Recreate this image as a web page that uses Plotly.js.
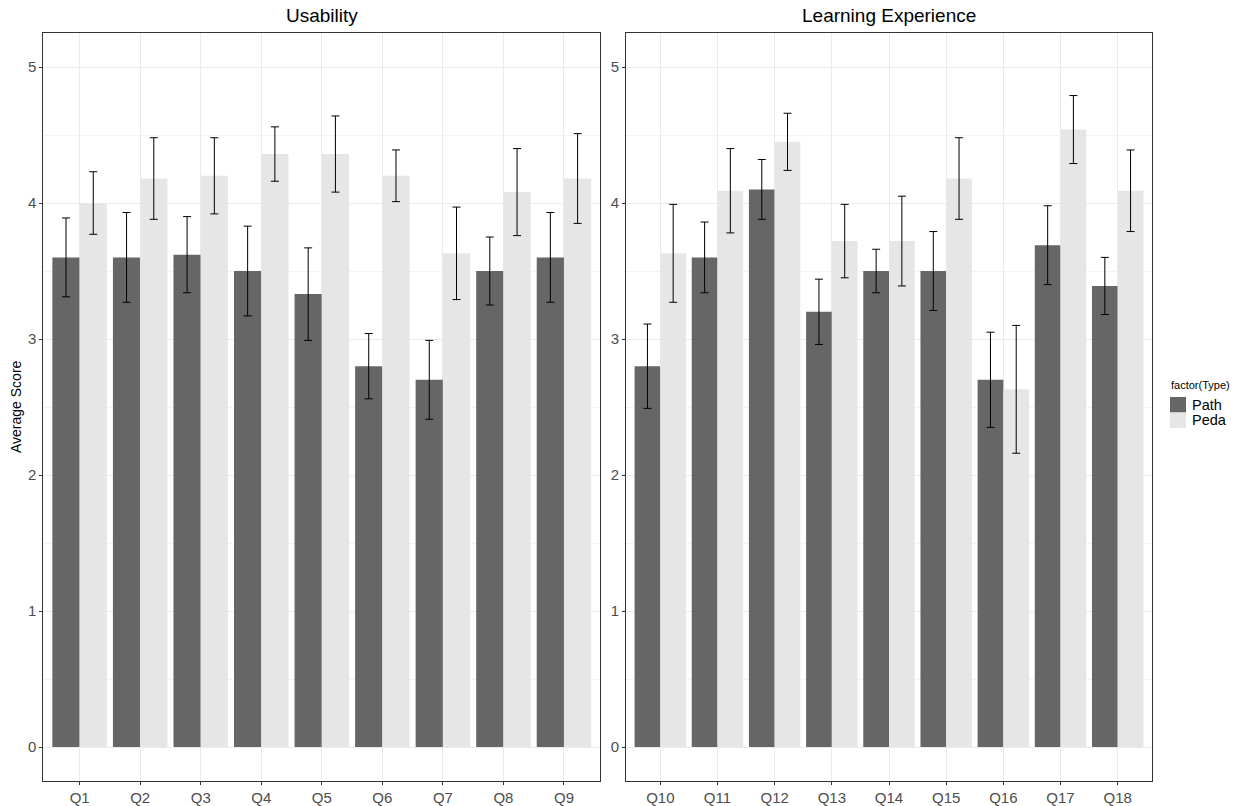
<!DOCTYPE html>
<html>
<head>
<meta charset="utf-8">
<script src="https://cdn.plot.ly/plotly-3.0.1.min.js"></script>
<style>html,body{margin:0;padding:0;background:#fff;}#chart{width:1243px;height:806px;}</style>
</head>
<body>
<div id="chart"></div>
<script>
// ---- data ----
const categoriesUsability = ['Q1','Q2','Q3','Q4','Q5','Q6','Q7','Q8','Q9'];
const pathUsability    = [3.60, 3.60, 3.62, 3.50, 3.33, 2.80, 2.70, 3.50, 3.60];
const pathUsabilityErr = [0.29, 0.33, 0.28, 0.33, 0.34, 0.24, 0.29, 0.25, 0.33];
const pedaUsability    = [4.00, 4.18, 4.20, 4.36, 4.36, 4.20, 3.63, 4.08, 4.18];
const pedaUsabilityErr = [0.23, 0.30, 0.28, 0.20, 0.28, 0.19, 0.34, 0.32, 0.33];

const categoriesLearning = ['Q10','Q11','Q12','Q13','Q14','Q15','Q16','Q17','Q18'];
const pathLearning    = [2.80, 3.60, 4.10, 3.20, 3.50, 3.50, 2.70, 3.69, 3.39];
const pathLearningErr = [0.31, 0.26, 0.22, 0.24, 0.16, 0.29, 0.35, 0.29, 0.21];
const pedaLearning    = [3.63, 4.09, 4.45, 3.72, 3.72, 4.18, 2.63, 4.54, 4.09];
const pedaLearningErr = [0.36, 0.31, 0.21, 0.27, 0.33, 0.30, 0.47, 0.25, 0.30];

const seriesNames = ['Path', 'Peda'];
const panelTitles = ['Usability', 'Learning Experience'];
const yTitle = 'Average Score';
const legendTitle = 'factor(Type)';

// ---- styles ----
const FONT = '"Liberation Sans", Arial, sans-serif';
const seriesColors = ['#666666', '#e6e6e6'];
const errStyle = {type: 'data', visible: true, color: '#000000', thickness: 1, width: 4};

function bar(name, x, y, err, color, xa, ya) {
  return {
    type: 'bar', name: name, x: x, y: y,
    xaxis: xa, yaxis: ya,
    marker: {color: color, line: {width: 0}},
    error_y: Object.assign({array: err}, errStyle),
    legendgroup: name, showlegend: false,
    hoverinfo: 'x+y'
  };
}

const traces = [
  bar(seriesNames[0], categoriesUsability, pathUsability, pathUsabilityErr, seriesColors[0], 'x', 'y'),
  bar(seriesNames[1], categoriesUsability, pedaUsability, pedaUsabilityErr, seriesColors[1], 'x', 'y'),
  bar(seriesNames[0], categoriesLearning, pathLearning, pathLearningErr, seriesColors[0], 'x2', 'y2'),
  bar(seriesNames[1], categoriesLearning, pedaLearning, pedaLearningErr, seriesColors[1], 'x2', 'y2')
];

const W = 1243, H = 806;
const leftPanel = [43.3, 600.3];
const rightPanel = [626, 1152];
const panelTopPx = 33, panelBottomPx = 781;

function xAxis(dom, anchor) {
  return {
    domain: [dom[0] / W, dom[1] / W],
    anchor: anchor,
    type: 'category',
    range: [-0.6, 8.6],
    showgrid: true, gridcolor: '#ebebeb', gridwidth: 1,
    showline: true, mirror: true, linecolor: '#333333', linewidth: 1,
    ticks: 'outside', ticklen: 3, tickcolor: '#333333', tickwidth: 1,
    tickfont: {family: FONT, size: 15, color: '#4d4d4d'},
    zeroline: false, fixedrange: true
  };
}
function yAxis(anchor) {
  return {
    domain: [1 - panelBottomPx / H, 1 - panelTopPx / H],
    anchor: anchor,
    range: [-0.25, 5.25],
    tick0: 0, dtick: 1,
    showgrid: true, gridcolor: '#ebebeb', gridwidth: 1,
    minor: {dtick: 0.5, tick0: 0, showgrid: true, gridcolor: '#f4f4f4', gridwidth: 1, ticks: ''},
    showline: true, mirror: true, linecolor: '#333333', linewidth: 1,
    ticks: 'outside', ticklen: 3, tickcolor: '#333333', tickwidth: 1,
    tickfont: {family: FONT, size: 15, color: '#4d4d4d'},
    zeroline: false, fixedrange: true
  };
}

// custom legend (keys + labels) in paper coordinates
const legendKeys = [[397, 412.5], [412.5, 428]];
const legendShapes = seriesNames.map((n, i) => ({
  type: 'rect', xref: 'paper', yref: 'paper', layer: 'above',
  x0: 1170 / W, x1: 1186 / W,
  y0: 1 - legendKeys[i][1] / H, y1: 1 - legendKeys[i][0] / H,
  fillcolor: seriesColors[i], line: {width: 0}
}));
const legendLabels = seriesNames.map((n, i) => ({
  text: n, xref: 'paper', yref: 'paper',
  x: 1189.5 / W, y: 1 - (legendKeys[i][0] + legendKeys[i][1]) / 2 / H,
  xanchor: 'left', yanchor: 'middle', showarrow: false,
  font: {family: FONT, size: 14.5, color: '#000'}
}));

const layout = {
  width: W, height: H,
  margin: {l: 0, r: 0, t: 0, b: 0, pad: 0},
  paper_bgcolor: '#ffffff', plot_bgcolor: '#ffffff',
  font: {family: FONT, color: '#000000'},
  barmode: 'group', bargap: 0.1, bargroupgap: 0,
  xaxis: xAxis(leftPanel, 'y'),
  yaxis: yAxis('x'),
  xaxis2: xAxis(rightPanel, 'y2'),
  yaxis2: yAxis('x2'),
  showlegend: false,
  shapes: legendShapes,
  annotations: [
    {text: panelTitles[0], xref: 'paper', yref: 'paper', x: (leftPanel[0] + leftPanel[1]) / 2 / W, y: 1 - 16 / H,
     xanchor: 'center', yanchor: 'middle', showarrow: false, font: {family: FONT, size: 19, color: '#000'}},
    {text: panelTitles[1], xref: 'paper', yref: 'paper', x: (rightPanel[0] + rightPanel[1]) / 2 / W, y: 1 - 16 / H,
     xanchor: 'center', yanchor: 'middle', showarrow: false, font: {family: FONT, size: 19, color: '#000'}},
    {text: yTitle, xref: 'paper', yref: 'paper', x: 16 / W, y: 1 - 407 / H, textangle: -90,
     xanchor: 'center', yanchor: 'middle', showarrow: false, font: {family: FONT, size: 14, color: '#000'}},
    {text: legendTitle, xref: 'paper', yref: 'paper', x: 1169 / W, y: 1 - 385.5 / H,
     xanchor: 'left', yanchor: 'middle', showarrow: false, font: {family: FONT, size: 11, color: '#000'}}
  ].concat(legendLabels)
};

Plotly.newPlot('chart', traces, layout, {displayModeBar: false, responsive: false});
</script>
</body>
</html>
